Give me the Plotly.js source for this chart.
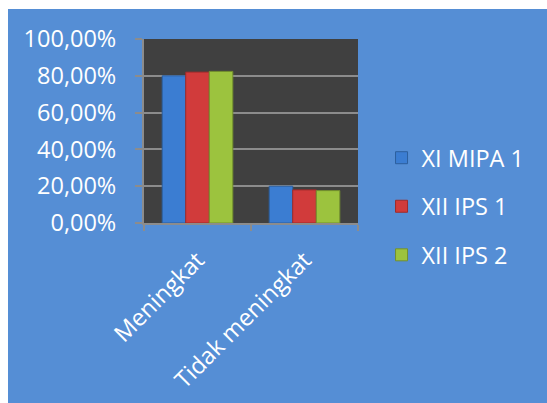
<!DOCTYPE html>
<html>
<head>
<meta charset="utf-8">
<script src="https://cdn.plot.ly/plotly-3.0.1.min.js"></script>
<style>
html, body { margin: 0; padding: 0; background: #ffffff; }
#chart { position: absolute; left: 8px; top: 9px; width: 539px; height: 394px; }
</style>
</head>
<body>
<div id="chart"></div>
<script>
const categories = ["Meningkat", "Tidak meningkat"];
const seriesNames = ["XI MIPA 1", "XII IPS 1", "XII IPS 2"];
const xiMipa1 = [0.80, 0.20];
const xiiIps1 = [0.82, 0.18];
const xiiIps2 = [0.824, 0.176];
const yTicks = [0, 0.2, 0.4, 0.6, 0.8, 1.0];

const colors = ["#3b7dd2", "#d13b3b", "#9cc33e"];
const lineColors = ["#2c5f9e", "#9e2b2b", "#73902d"];
const values = [xiMipa1, xiiIps1, xiiIps2];

const traces = values.map((v, i) => ({
  type: "bar",
  name: seriesNames[i],
  x: categories,
  y: v,
  legendgroup: "g" + i,
  marker: { color: colors[i], line: { color: lineColors[i], width: 1 } },
  hoverinfo: "skip"
}));

const font = { family: "Open Sans, sans-serif", size: 23.5, color: "#ffffff" };

const layout = {
  width: 539,
  height: 394,
  margin: { l: 136, r: 189, t: 30, b: 180 },
  paper_bgcolor: "#558ed5",
  plot_bgcolor: "#404040",
  separators: ",.",
  font: font,
  barmode: "group",
  bargap: 0.34,
  bargroupgap: 0.0,
  showlegend: true,
  legend: {
    x: 1.11, xanchor: "left",
    y: 0.09, yanchor: "middle",
    font: font,
    traceorder: "grouped",
    tracegroupgap: 15,
    bgcolor: "rgba(0,0,0,0)"
  },
  xaxis: {
    type: "category",
    tickangle: -45,
    tickfont: font,
    showline: true,
    linecolor: "#8c8c8c",
    linewidth: 2,
    ticks: "outside",
    tickson: "boundaries",
    ticklen: 6,
    tickcolor: "#8c8c8c",
    tickwidth: 2,
    ticklabelstandoff: 12,
    showgrid: false
  },
  yaxis: {
    range: [0, 1],
    tickvals: yTicks,
    tickformat: ".2%",
    tickfont: font,
    showline: true,
    linecolor: "#8c8c8c",
    linewidth: 2,
    ticks: "outside",
    ticklen: 7,
    tickcolor: "#8c8c8c",
    tickwidth: 2,
    ticklabelstandoff: 14,
    showgrid: true,
    gridcolor: "#8c8c8c",
    gridwidth: 2,
    zeroline: false
  }
};

Plotly.newPlot("chart", traces, layout, { displayModeBar: false, staticPlot: true });
</script>
</body>
</html>
